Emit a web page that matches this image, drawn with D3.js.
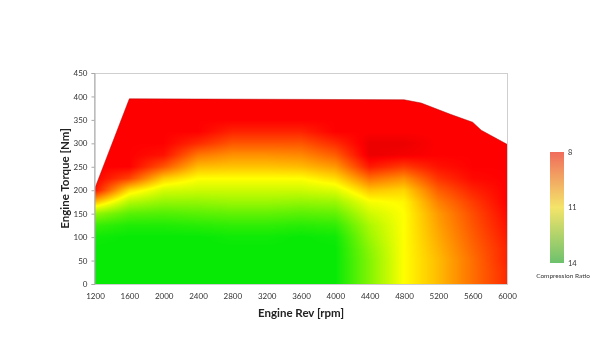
<!DOCTYPE html>
<html>
<head>
<meta charset="utf-8">
<script src="https://cdn.jsdelivr.net/npm/d3@7/dist/d3.min.js"></script>
<style>
  html, body { margin: 0; padding: 0; background: #fff; }
  #wrap { position: relative; width: 600px; height: 357px; }
  canvas, svg { position: absolute; left: 0; top: 0; }
  text { font-family: Lato, "Open Sans", sans-serif; }
</style>
</head>
<body>
<div id="wrap">
  <canvas id="field" width="600" height="357"></canvas>
  <svg id="chart" width="600" height="357"></svg>
</div>
<script>
// ---- data ----
const rpmTicks = [1200, 1600, 2000, 2400, 2800, 3200, 3600, 4000, 4400, 4800, 5200, 5600, 6000];
const torqueTicks = [0, 50, 100, 150, 200, 250, 300, 350, 400, 450];
const legendTicks = [8, 11, 14];

// full-load curve (upper boundary of the map)
const fullLoadRpm    = [1200, 1600, 4800, 5000, 5340, 5600, 5700, 6000];
const fullLoadTorque = [205,  395,  393,  386,  362,  345,  328,  298];

// compression-ratio map: one column per rpm, rows torque 0..400 step 25
const gridRpm = [1200, 1600, 2000, 2400, 2800, 3200, 3600, 4000, 4400, 4800, 5200, 5600, 6000];
const gridTorque = [0, 25, 50, 75, 100, 125, 150, 175, 200, 225, 250, 275, 300, 325, 350, 375, 400];
const ratio1200 = [14, 14, 14, 14, 13.9, 13.4, 12.3, 10.2, 8.2, 8, 8, 8, 8, 8, 8, 8, 8];
const ratio1600 = [14, 14, 14, 14, 14, 13.7, 13, 11.9, 10.6, 8.8, 8, 8, 8, 8, 8, 8, 8];
const ratio2000 = [14, 14, 14, 14, 14, 13.7, 13.1, 12.3, 11.5, 10.4, 9, 8.2, 8, 8, 8, 8, 8];
const ratio2400 = [14, 14, 14, 14, 14, 13.6, 13, 12.3, 11.6, 11, 10.2, 9.4, 8.5, 8, 8, 8, 8];
const ratio2800 = [14, 14, 14, 14, 13.9, 13.5, 12.9, 12.2, 11.6, 11, 10.3, 9.7, 9, 8.4, 8, 8, 8];
const ratio3200 = [14, 14, 14, 14, 13.9, 13.5, 12.9, 12.2, 11.6, 11, 10.3, 9.7, 9, 8.4, 8, 8, 8];
const ratio3600 = [14, 14, 14, 14, 14, 13.6, 13, 12.3, 11.6, 11, 10.2, 9.6, 9, 8.4, 8, 8, 8];
const ratio4000 = [14, 14, 14, 14, 13.9, 13.5, 12.9, 12.2, 11.4, 10.6, 9.8, 9.1, 8.5, 8, 8, 8, 8];
const ratio4400 = [12.5, 12.5, 12.5, 12.4, 12.2, 12, 11.6, 11.1, 10.3, 9.3, 8.3, 7.8, 7.8, 8, 8, 8, 8];
const ratio4800 = [11, 11, 11, 11, 11, 11, 11, 10.9, 10.5, 9.7, 8.7, 7.9, 7.8, 8, 8, 8, 8];
const ratio5200 = [10.2, 10.2, 10.2, 10.1, 10, 9.9, 9.8, 9.5, 9.1, 8.6, 8.2, 8, 8, 8, 8, 8, 8];
const ratio5600 = [9.3, 9.3, 9.3, 9.2, 9.1, 9, 8.9, 8.7, 8.4, 8.1, 8, 8, 8, 8, 8, 8, 8];
const ratio6000 = [8.5, 8.5, 8.4, 8.4, 8.3, 8.2, 8.1, 8, 8, 8, 8, 8, 8, 8, 8, 8, 8];
const ratioColumns = [ratio1200, ratio1600, ratio2000, ratio2400, ratio2800, ratio3200, ratio3600,
                      ratio4000, ratio4400, ratio4800, ratio5200, ratio5600, ratio6000];

// ---- scales ----
const x = d3.scaleLinear().domain([1200, 6000]).range([95, 507]);
const y = d3.scaleLinear().domain([0, 450]).range([284, 73]);
const color = d3.scaleLinear()
  .domain([7.6, 8, 11, 14])
  .range(["#d80000", "#ff0000", "#ffff00", "#06ea06"])
  .clamp(true);

function sampleRatio(r, t) {
  r = Math.max(gridRpm[0], Math.min(gridRpm[gridRpm.length - 1], r));
  t = Math.max(gridTorque[0], Math.min(gridTorque[gridTorque.length - 1], t));
  let i = d3.bisectRight(gridRpm, r) - 1; i = Math.max(0, Math.min(gridRpm.length - 2, i));
  let j = d3.bisectRight(gridTorque, t) - 1; j = Math.max(0, Math.min(gridTorque.length - 2, j));
  const fr = (r - gridRpm[i]) / (gridRpm[i + 1] - gridRpm[i]);
  const ft = (t - gridTorque[j]) / (gridTorque[j + 1] - gridTorque[j]);
  const a = ratioColumns[i][j], b = ratioColumns[i + 1][j];
  const c = ratioColumns[i][j + 1], d = ratioColumns[i + 1][j + 1];
  return (a * (1 - fr) + b * fr) * (1 - ft) + (c * (1 - fr) + d * fr) * ft;
}

// ---- field on canvas ----
const canvas = document.getElementById("field");
const ctx = canvas.getContext("2d");
const x0 = Math.floor(x.range()[0]), x1 = Math.ceil(x.range()[1]);
const y0 = Math.floor(y.range()[1]), y1 = Math.ceil(y.range()[0]);
const w = x1 - x0, h = y1 - y0;
const tmp = document.createElement("canvas");
tmp.width = w; tmp.height = h;
const tctx = tmp.getContext("2d");
const img = tctx.createImageData(w, h);
for (let py = 0; py < h; py++) {
  for (let px = 0; px < w; px++) {
    const v = sampleRatio(x.invert(x0 + px + 0.5), y.invert(y0 + py + 0.5));
    const c = d3.rgb(color(v));
    const k = (py * w + px) * 4;
    img.data[k] = c.r; img.data[k + 1] = c.g; img.data[k + 2] = c.b; img.data[k + 3] = 255;
  }
}
tctx.putImageData(img, 0, 0);

const boundary = fullLoadRpm.map((r, i) => [r, fullLoadTorque[i]]);
const area = d3.area().x(d => x(d[0])).y0(y(0)).y1(d => y(d[1])).context(ctx);
ctx.save();
ctx.beginPath();
area(boundary);
ctx.clip();
ctx.drawImage(tmp, x0, y0);
ctx.restore();
// thin darker edge along top
const line = d3.line().x(d => x(d[0])).y(d => y(d[1])).context(ctx);
ctx.beginPath();
line(boundary);
ctx.strokeStyle = "rgba(170,0,0,0.6)";
ctx.lineWidth = 0.8;
ctx.stroke();

// ---- svg overlay ----
const svg = d3.select("#chart");

// frame
svg.append("rect")
  .attr("x", x.range()[0] - 0.5).attr("y", y.range()[1] + 0.5)
  .attr("width", x.range()[1] - x.range()[0] + 1)
  .attr("height", y.range()[0] - y.range()[1])
  .attr("fill", "none").attr("stroke", "#cfcfcf").attr("stroke-width", 1);

// y axis
const yAxis = d3.axisLeft(y).tickValues(torqueTicks).tickFormat(d3.format("d")).tickSize(3).tickPadding(4);
const gy = svg.append("g").attr("transform", `translate(${x.range()[0] - 0.5},0)`).call(yAxis);
gy.select(".domain").attr("stroke", "#a8a8a8");
gy.selectAll(".tick line").attr("stroke", "#a8a8a8");
gy.selectAll(".tick text").attr("fill", "#333").style("font-size", "8px").style("font-family", "Lato, sans-serif");

// x axis
const xAxis = d3.axisBottom(x).tickValues(rpmTicks).tickFormat(d3.format("d")).tickSize(0).tickPadding(9);
const gx = svg.append("g").attr("transform", `translate(0,${y.range()[0]})`).call(xAxis);
gx.select(".domain").remove();
gx.selectAll(".tick text").attr("fill", "#333").style("font-size", "8px").style("font-family", "Lato, sans-serif");

// axis titles
svg.append("text")
  .attr("transform", `translate(69,${(y.range()[0] + y.range()[1]) / 2}) rotate(-90)`)
  .attr("text-anchor", "middle")
  .style("font-size", "11.5px").style("font-weight", "700").attr("fill", "#222")
  .text("Engine Torque [Nm]");
svg.append("text")
  .attr("x", (x.range()[0] + x.range()[1]) / 2).attr("y", 317)
  .attr("text-anchor", "middle")
  .style("font-size", "11.5px").style("font-weight", "700").attr("fill", "#222")
  .text("Engine Rev [rpm]");

// legend colorbar
const defs = svg.append("defs");
const grad = defs.append("linearGradient").attr("id", "cbar")
  .attr("x1", 0).attr("y1", 0).attr("x2", 0).attr("y2", 1);
const legendColors = ["#f06c5c", "#f4e46a", "#6dc16d"];
legendTicks.forEach((v, i) => {
  grad.append("stop").attr("offset", i / (legendTicks.length - 1)).attr("stop-color", legendColors[i]);
});
const ly = d3.scaleLinear().domain([8, 14]).range([152, 263]);
svg.append("rect").attr("x", 550).attr("y", ly(8)).attr("width", 14)
  .attr("height", ly(14) - ly(8)).attr("fill", "url(#cbar)");
legendTicks.forEach(v => {
  svg.append("text").attr("x", 568).attr("y", ly(v) + (v === 8 ? 3 : 2.5))
    .style("font-size", "7.5px").attr("fill", "#333").text(v);
});
svg.append("text").attr("x", 563).attr("y", 278).attr("text-anchor", "middle")
  .style("font-size", "6.5px").attr("fill", "#333").text("Compression Ratio");
</script>
</body>
</html>
